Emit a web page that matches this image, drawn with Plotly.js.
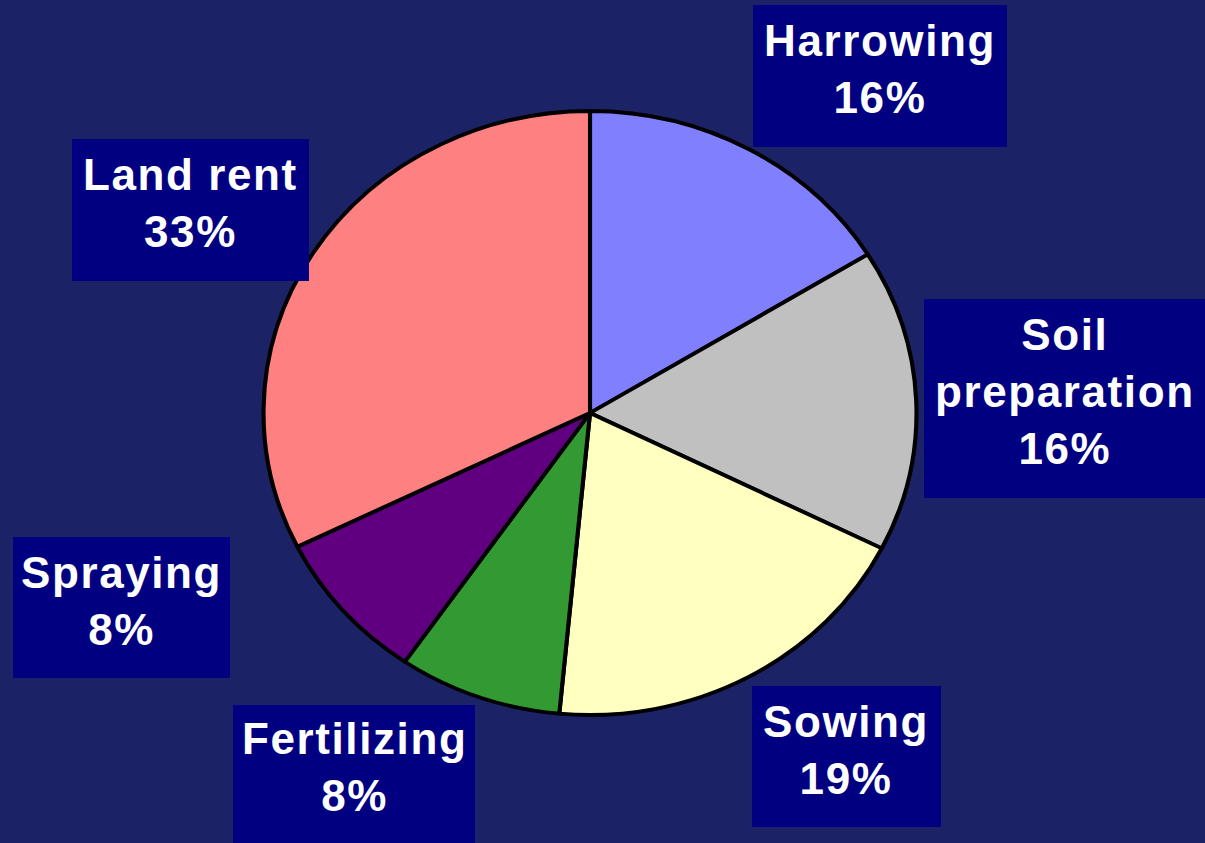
<!DOCTYPE html>
<html>
<head>
<meta charset="utf-8">
<script src="https://cdn.plot.ly/plotly-3.0.1.min.js"></script>
<style>
  html, body { margin: 0; padding: 0; background: #1C2266; }
  #chart { width: 1205px; height: 843px; }
  .annotation-text { letter-spacing: 1.6px; }
</style>
</head>
<body>
<div id="chart"></div>
<script>
const categories = ["Harrowing", "Soil<br>preparation", "Sowing", "Fertilizing", "Spraying", "Land rent"];
const shares = [16.2, 16.2, 19.1, 8.1, 8.1, 32.3];
// percentage labels as printed on the chart
const pctLabels = ["16%", "16%", "19%", "8%", "8%", "33%"];
const sliceColors = ["#8080FF", "#C0C0C0", "#FFFFC0", "#339933", "#600080", "#FF8080"];

// label box placement (pixel boxes: left, top, width, height)
const boxes = [
  [753, 5, 254, 142],
  [924, 299, 281, 199],
  [752, 686, 189, 141],
  [233, 705, 242, 138],
  [13, 537, 217, 141],
  [72, 139, 237, 142]
];

const W = 1205, H = 843;

const shapes = boxes.map(b => ({
  type: "rect", xref: "paper", yref: "paper", layer: "above",
  x0: b[0] / W, x1: (b[0] + b[2]) / W,
  y0: 1 - (b[1] + b[3]) / H, y1: 1 - b[1] / H,
  fillcolor: "#000080", line: { width: 0 }
}));

const annotations = categories.map((c, i) => {
  const b = boxes[i];
  return {
    xref: "paper", yref: "paper",
    x: (b[0] + b[2] / 2) / W, y: 1 - (b[1] + b[3] / 2) / H,
    xanchor: "center", yanchor: "middle",
    yshift: 7,
    showarrow: false,
    align: "center",
    text: "<b>" + c + "<br>" + pctLabels[i] + "</b>",
    font: { family: "Liberation Sans, Arial, sans-serif", size: 44, color: "#FFFFFF" }
  };
});

const trace = {
  type: "pie",
  labels: categories,
  values: shares,
  sort: false,
  direction: "clockwise",
  rotation: 0,
  textinfo: "none",
  hoverinfo: "none",
  marker: { colors: sliceColors, line: { color: "#000000", width: 3.8 } },
  domain: { x: [240 / W, 940 / W], y: [(H - 715) / H, (H - 111) / H] }
};

const layout = {
  width: W, height: H,
  margin: { l: 0, r: 0, t: 0, b: 0 },
  paper_bgcolor: "#1C2266",
  plot_bgcolor: "#1C2266",
  showlegend: false,
  shapes: shapes,
  annotations: annotations
};

Plotly.newPlot("chart", [trace], layout, { staticPlot: true, displayModeBar: false }).then(() => {
  const pl = document.querySelector(".pielayer");
  if (pl) {
    pl.style.transformBox = "fill-box";
    pl.style.transformOrigin = "center";
    pl.style.transform = "scaleX(1.081)";
  }
});
</script>
</body>
</html>
